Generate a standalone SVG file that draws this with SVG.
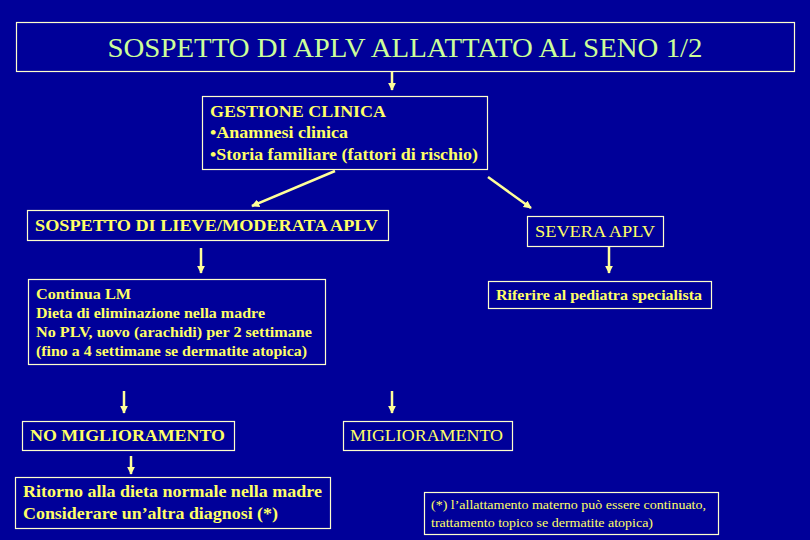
<svg xmlns="http://www.w3.org/2000/svg" width="810" height="540" viewBox="0 0 810 540">
<defs>
<marker id="ah" viewBox="0 0 10 10" refX="9" refY="5" markerWidth="3.2" markerHeight="3.2" orient="auto" markerUnits="strokeWidth">
<path d="M0,0 L10,5 L0,10 z" fill="#FFFF99"/>
</marker>
<style>
.box{fill:none;stroke:#FFFFCC;stroke-width:1.2}
.t{font-family:"Liberation Serif","Times New Roman",serif;fill:#FFFF66}
.b{font-weight:bold}
.c{stroke:#FFFF99;stroke-width:2.5;fill:none;marker-end:url(#ah)}
</style>
</defs>
<rect width="810" height="540" fill="#000099"/>
<g id="title">
<rect class="box" x="16.5" y="22.5" width="778" height="49"/>
<text x="405" y="57" text-anchor="middle" font-family="Liberation Serif, serif" font-size="27" fill="#CCFF99" textLength="595" lengthAdjust="spacingAndGlyphs">SOSPETTO DI APLV ALLATTATO AL SENO 1/2</text>
</g>
<g id="gestione">
<rect class="box" x="202.5" y="96.5" width="285" height="73"/>
<text class="t b" font-size="17" x="210" y="117" textLength="176" lengthAdjust="spacingAndGlyphs">GESTIONE CLINICA</text>
<text class="t b" font-size="17" x="210" y="138" textLength="138" lengthAdjust="spacingAndGlyphs">•Anamnesi clinica</text>
<text class="t b" font-size="17" x="210" y="160" textLength="268" lengthAdjust="spacingAndGlyphs">•Storia familiare (fattori di rischio)</text>
</g>
<g id="lieve">
<rect class="box" x="27.5" y="210.5" width="361" height="30"/>
<text class="t b" font-size="16.5" x="35" y="231" textLength="343" lengthAdjust="spacingAndGlyphs">SOSPETTO DI LIEVE/MODERATA APLV</text>
</g>
<g id="severa">
<rect class="box" x="527.5" y="216.5" width="136" height="30"/>
<text class="t" font-size="17" x="535" y="237" textLength="120" lengthAdjust="spacingAndGlyphs">SEVERA APLV</text>
</g>
<g id="continua">
<rect class="box" x="28.5" y="279.5" width="297" height="85"/>
<text class="t" font-size="15" x="36" y="299" font-weight="600" textLength="95" lengthAdjust="spacingAndGlyphs">Continua LM</text>
<text class="t" font-size="15" x="36" y="318" font-weight="600" textLength="229" lengthAdjust="spacingAndGlyphs">Dieta di eliminazione nella madre</text>
<text class="t" font-size="15" x="36" y="337" font-weight="600" textLength="276" lengthAdjust="spacingAndGlyphs">No PLV, uovo (arachidi) per 2 settimane</text>
<text class="t" font-size="15" x="36" y="356" font-weight="600" textLength="271" lengthAdjust="spacingAndGlyphs">(fino a 4 settimane se dermatite atopica)</text>
</g>
<g id="riferire">
<rect class="box" x="488.5" y="281.5" width="223" height="27"/>
<text class="t b" font-size="15" x="496" y="300" textLength="206" lengthAdjust="spacingAndGlyphs">Riferire al pediatra specialista</text>
</g>
<g id="nomiglioramento">
<rect class="box" x="22.5" y="421.5" width="212" height="29"/>
<text class="t b" font-size="16" x="30" y="441" textLength="195" lengthAdjust="spacingAndGlyphs">NO MIGLIORAMENTO</text>
</g>
<g id="miglioramento">
<rect class="box" x="343.5" y="421.5" width="169" height="29"/>
<text class="t" font-size="17" x="350" y="441" textLength="153" lengthAdjust="spacingAndGlyphs">MIGLIORAMENTO</text>
</g>
<g id="ritorno">
<rect class="box" x="15.5" y="477.5" width="315" height="51"/>
<text class="t b" font-size="17" x="23" y="497" textLength="299" lengthAdjust="spacingAndGlyphs">Ritorno alla dieta normale nella madre</text>
<text class="t b" font-size="17" x="23" y="519" textLength="255" lengthAdjust="spacingAndGlyphs">Considerare un’altra diagnosi (*)</text>
</g>
<g id="nota">
<rect class="box" x="424.5" y="492.5" width="294" height="42"/>
<text class="t" font-size="13.5" x="431" y="509" textLength="275" lengthAdjust="spacingAndGlyphs">(*) l’allattamento materno può essere continuato,</text>
<text class="t" font-size="13.5" x="431" y="527" textLength="222" lengthAdjust="spacingAndGlyphs">trattamento topico se dermatite atopica)</text>
</g>
<g id="connectors">
<path class="c" d="M392,72 L392,90"/>
<path class="c" d="M335,171 L252,206"/>
<path class="c" d="M488,177 L531,208"/>
<path class="c" d="M201,248 L201,273"/>
<path class="c" d="M609,247 L609,273"/>
<path class="c" d="M124,391 L124,413"/>
<path class="c" d="M392,391 L392,413"/>
<path class="c" d="M131,456 L131,474"/>
</g>
</svg>
